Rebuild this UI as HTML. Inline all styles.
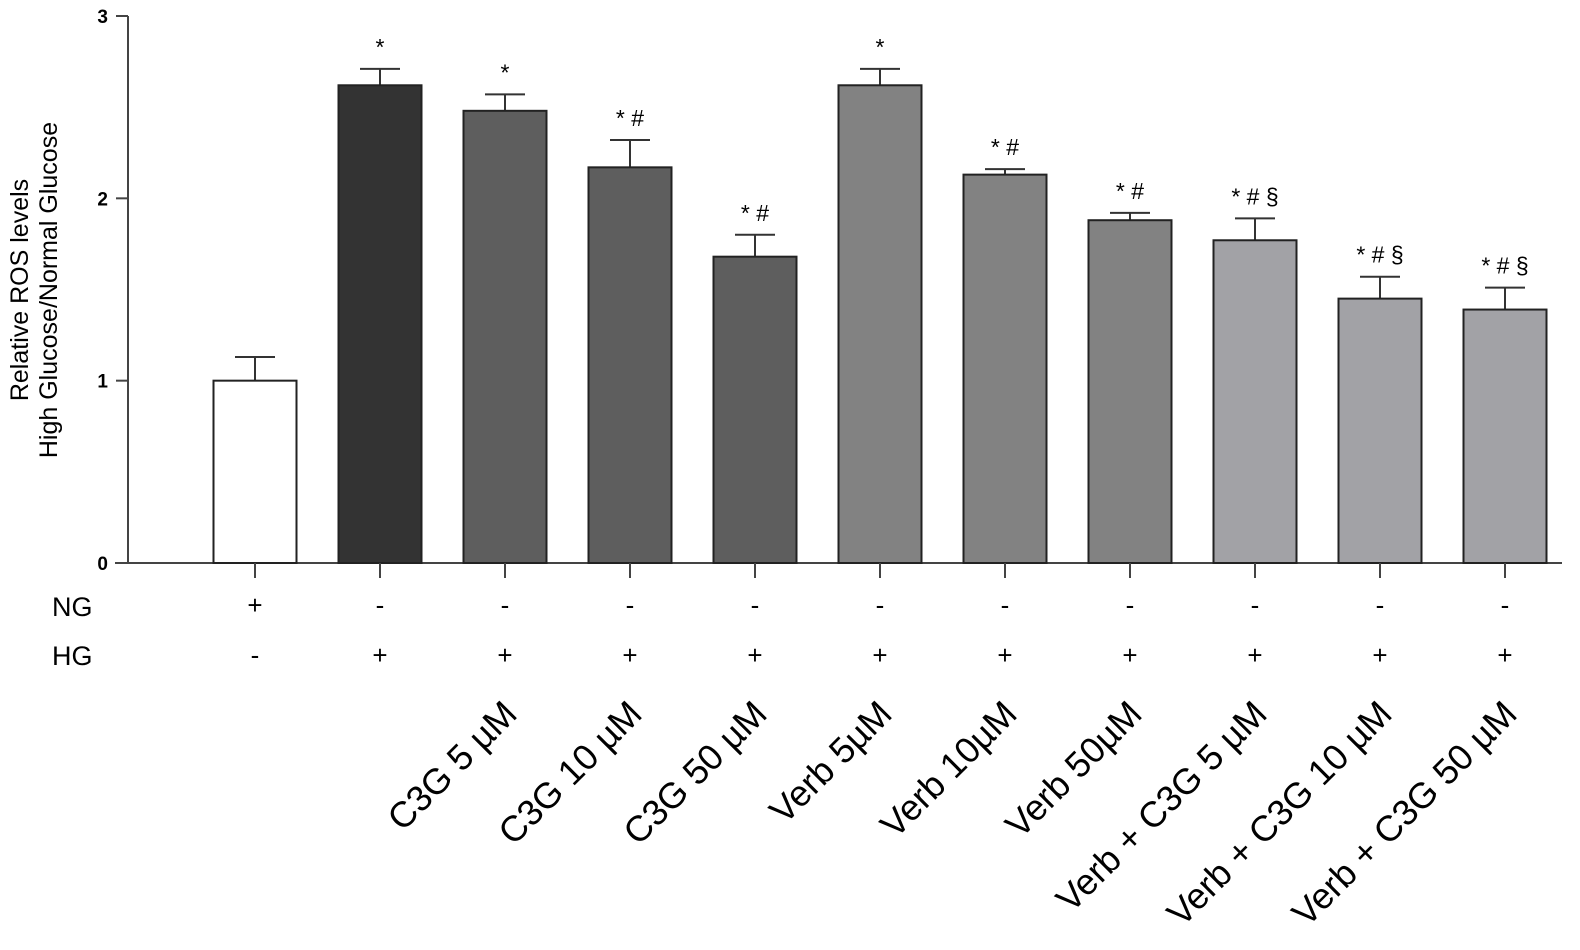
<!DOCTYPE html>
<html><head><meta charset="utf-8"><style>
body{margin:0;background:#fff;}
svg text{font-family:"Liberation Sans",Arial,sans-serif;fill:#000;}
</style></head><body>
<svg id="chart" width="1580" height="945" xmlns="http://www.w3.org/2000/svg">
<g id="g"></g>
</svg>
<script>
const categories=["NG","HG","C3G 5 µM","C3G 10 µM","C3G 50 µM","Verb 5µM","Verb 10µM","Verb 50µM","Verb + C3G 5 µM","Verb + C3G 10 µM","Verb + C3G 50 µM"];
const values=[1.0,2.62,2.48,2.17,1.68,2.62,2.13,1.88,1.77,1.45,1.39];
const errors=[0.13,0.09,0.09,0.15,0.12,0.09,0.03,0.04,0.12,0.12,0.12];
const ngRow=["+","-","-","-","-","-","-","-","-","-","-"];
const hgRow=["-","+","+","+","+","+","+","+","+","+","+"];
const sigLabels=["","*","*","* #","* #","*","* #","* #","* # §","* # §","* # §"];
const yTicks=[0,1,2,3];
const colors=["#ffffff","#333333","#5e5e5e","#5e5e5e","#5e5e5e","#828282","#828282","#828282","#a2a2a6","#a2a2a6","#a2a2a6"];

const NS="http://www.w3.org/2000/svg";
const g=document.getElementById('g');
const y0=563, yTop=16, yMax=3;
const yScale=v=>y0-(y0-yTop)*v/yMax;
const xScale=i=>255+125*i;
const bw=83;
function mk(tag,attrs,text){const e=document.createElementNS(NS,tag);for(const k in attrs)e.setAttribute(k,attrs[k]);if(text!==undefined)e.textContent=text;g.appendChild(e);return e;}

let ax=mk('line',{x1:128,y1:yTop,x2:128,y2:y0,stroke:'#444','stroke-width':2});


let xa=mk('line',{x1:115,y1:y0,x2:1562,y2:y0,stroke:'#444','stroke-width':2});


yTicks.forEach(t=>{
  const y=yScale(t);
  mk('line',{x1:116,y1:y,x2:128,y2:y,stroke:'#444','stroke-width':2});
  const tl=mk('text',{x:108,y:y+7,'text-anchor':'end','font-size':19,'font-weight':'bold'},t);
  
  
});
const yt=mk('text',{transform:'translate(28,290) rotate(-90)','text-anchor':'middle','font-size':25},'Relative ROS levels');


const yt2=mk('text',{transform:'translate(57,290) rotate(-90)','text-anchor':'middle','font-size':25},'High Glucose/Normal Glucose');



const ng=mk('text',{x:52,y:616,'font-size':27},'NG');


const hg=mk('text',{x:52,y:665,'font-size':27},'HG');



categories.forEach((c,i)=>{
  const cx=xScale(i), v=values[i], top=yScale(v), et=yScale(v+errors[i]);
  mk('line',{x1:cx,y1:et,x2:cx,y2:top,stroke:'#333','stroke-width':2});
  mk('line',{x1:cx-20,y1:et,x2:cx+20,y2:et,stroke:'#333','stroke-width':2});
  const b=mk('rect',{x:cx-bw/2,y:top,width:bw,height:y0-top,fill:colors[i],stroke:'#222','stroke-width':2});
  
  
  mk('line',{x1:cx,y1:y0,x2:cx,y2:y0+15,stroke:'#444','stroke-width':2});
  if(sigLabels[i]){
    const s=mk('text',{x:cx,y:et-14,'text-anchor':'middle','font-size':23},sigLabels[i]);
    
    
  }
  const n=mk('text',{x:cx,y:614,'text-anchor':'middle','font-size':26},ngRow[i]);
  
  
  const h=mk('text',{x:cx,y:664,'text-anchor':'middle','font-size':26},hgRow[i]);
  
  
  if(i>=2){
    const l=mk('text',{transform:`translate(${cx+14},716) rotate(-45)`,'text-anchor':'end','font-size':36},c);
    
    
  }
});
</script>
</body></html>
